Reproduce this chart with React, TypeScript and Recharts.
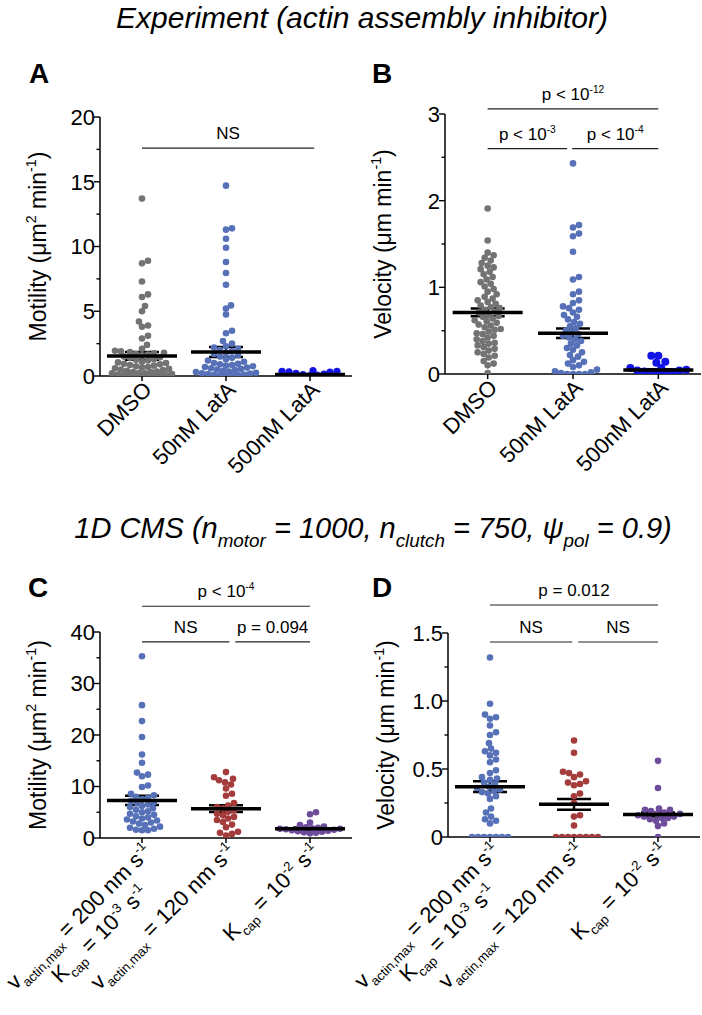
import React from 'react';
import { ComposedChart, Scatter, XAxis, YAxis, ErrorBar, ReferenceLine } from 'recharts';

const FONT = '"Liberation Sans", Arial, Helvetica, sans-serif';

// ---------------- data ----------------
const groupsExp = [['DMSO'], ['50nM LatA'], ['500nM LatA']];
const groupsCms = [
  ['v_{actin,max} = 200 nm s^{-1}', 'K_{cap} = 10^{-3} s^{-1}'],
  ['v_{actin,max} = 120 nm s^{-1}'],
  ['K_{cap} = 10^{-2} s^{-1}'],
];

const motilityDMSO = [13.7, 8.9, 8.7, 7.3, 6.3, 6.1, 5.4, 5.0, 4.2, 3.9, 3.8, 3.1, 2.9, 2.4, 2.1, 1.95, 1.9, 1.85, 1.8, 1.75, 1.7, 1.65, 1.6, 1.5, 1.45, 1.4, 1.3, 1.25, 1.2, 1.1, 1.05, 1.0, 0.95, 0.9, 0.85, 0.8, 0.75, 0.7, 0.65, 0.6, 0.55, 0.5, 0.45, 0.4, 0.35, 0.3, 0.3, 0.25, 0.2, 0.2, 0.15, 0.12, 0.1, 0.08, 0.06, 0.05, 0.04, 0.03, 0.02, 0.01];
const motilityLat50 = [14.7, 11.4, 11.3, 10.6, 9.9, 8.8, 7.95, 7.05, 5.45, 5.2, 4.75, 3.5, 3.3, 2.7, 2.5, 2.3, 2.2, 2.1, 2.0, 1.9, 1.8, 1.7, 1.6, 1.5, 1.4, 1.3, 1.2, 1.1, 1.0, 0.95, 0.9, 0.85, 0.8, 0.75, 0.7, 0.65, 0.6, 0.55, 0.5, 0.45, 0.4, 0.35, 0.3, 0.25, 0.2, 0.18, 0.15, 0.12, 0.1, 0.08, 0.05, 0.03, 0.02];
const motilityLat500 = [0.42, 0.36, 0.35, 0.33, 0.3, 0.2, 0.14, 0.1, 0.06, 0.03];
const motilityMeans = [1.55, 1.85, 0.12];
const motilitySems = [0.3, 0.38, 0.02];

const velocityDMSO = [1.91, 1.54, 1.40, 1.37, 1.34, 1.31, 1.28, 1.25, 1.23, 1.21, 1.18, 1.15, 1.12, 1.09, 1.06, 1.04, 1.01, 0.98, 0.95, 0.92, 0.89, 0.87, 0.85, 0.83, 0.81, 0.79, 0.77, 0.76, 0.74, 0.72, 0.71, 0.69, 0.67, 0.66, 0.64, 0.62, 0.61, 0.59, 0.57, 0.56, 0.54, 0.52, 0.51, 0.49, 0.47, 0.46, 0.44, 0.42, 0.40, 0.38, 0.36, 0.35, 0.33, 0.31, 0.29, 0.27, 0.25, 0.23, 0.21, 0.19, 0.15, 0.12, 0.10, 0.01];
const velocityLat50 = [2.43, 1.72, 1.69, 1.62, 1.59, 1.41, 1.12, 1.09, 0.95, 0.92, 0.85, 0.82, 0.78, 0.76, 0.74, 0.71, 0.68, 0.66, 0.63, 0.6, 0.58, 0.55, 0.53, 0.5, 0.48, 0.46, 0.44, 0.42, 0.4, 0.38, 0.35, 0.33, 0.3, 0.28, 0.25, 0.22, 0.2, 0.16, 0.14, 0.12, 0.1, 0.08, 0.05, 0.03, 0.02, 0.01, 0.0, 0.0, 0.0, 0.0];
const velocityLat500 = [0.21, 0.21, 0.14, 0.13, 0.07, 0.07, 0.05, 0.04, 0.04, 0.03, 0.02, 0.02, 0.01, 0.01];
const velocityMeans = [0.71, 0.47, 0.045];
const velocitySems = [0.045, 0.055, 0.01];

const cmsMotility200 = [35.3, 25.8, 22.7, 19.6, 16.2, 14.6, 12.7, 12.3, 12.0, 10.2, 9.9, 8.6, 8.3, 8.0, 7.8, 7.5, 7.2, 7.0, 6.8, 6.5, 6.2, 6.0, 5.8, 5.5, 5.2, 5.0, 4.7, 4.5, 4.2, 4.0, 3.8, 3.6, 3.4, 3.2, 3.0, 2.8, 2.5, 2.2, 2.0, 1.8, 1.6, 1.5, 1.5];
const cmsMotility120 = [12.8, 11.8, 11.5, 11.2, 10.8, 10.4, 9.6, 8.6, 8.2, 6.8, 6.3, 6.0, 5.7, 5.4, 5.1, 4.7, 4.4, 4.1, 3.8, 3.5, 3.1, 2.6, 2.1, 1.2, 1.0, 0.8, 0.5];
const cmsMotilityCap = [5.0, 4.6, 3.0, 2.5, 2.2, 2.1, 2.0, 1.9, 1.8, 1.8, 1.7, 1.6, 1.5, 1.4, 1.3, 1.2, 1.1, 1.0, 0.9];
const cmsMotilityMeans = [7.3, 5.7, 1.8];
const cmsMotilitySems = [0.9, 0.65, 0.25];

const cmsVelocity200 = [1.32, 0.98, 0.90, 0.88, 0.87, 0.82, 0.77, 0.75, 0.69, 0.65, 0.63, 0.62, 0.60, 0.57, 0.55, 0.49, 0.47, 0.44, 0.43, 0.42, 0.40, 0.39, 0.37, 0.36, 0.35, 0.34, 0.33, 0.32, 0.30, 0.28, 0.21, 0.18, 0.15, 0.13, 0.12, 0.10, 0.0, 0.0, 0.0, 0.0, 0.0, 0.0, 0.0];
const cmsVelocity120 = [0.71, 0.62, 0.48, 0.47, 0.46, 0.44, 0.41, 0.40, 0.39, 0.38, 0.32, 0.30, 0.25, 0.16, 0.15, 0.085, 0.0, 0.0, 0.0, 0.0, 0.0, 0.0, 0.0, 0.0];
const cmsVelocityCap = [0.56, 0.36, 0.21, 0.20, 0.20, 0.19, 0.18, 0.17, 0.17, 0.16, 0.15, 0.15, 0.14, 0.14, 0.13, 0.12, 0.10, 0.08, 0.0];
const cmsVelocityMeans = [0.37, 0.24, 0.165];
const cmsVelocitySems = [0.04, 0.04, 0.015];

const ticksMotA = [0, 2.5, 5, 7.5, 10, 12.5, 15, 17.5, 20];
const majorMotA = [0, 5, 10, 15, 20];
const ticksVelB = [0, 0.5, 1, 1.5, 2, 2.5, 3];
const majorVelB = [0, 1, 2, 3];
const ticksMotC = [0, 5, 10, 15, 20, 25, 30, 35, 40];
const majorMotC = [0, 10, 20, 30, 40];
const ticksVelD = [0, 0.25, 0.5, 0.75, 1, 1.25, 1.5];
const majorVelD = [0, 0.5, 1, 1.5];

// ---------------- colours ----------------
const GRAY = '#737373';
const BLUE = '#5671b7';
const BLUE_DARK = '#1414e6';
const RED = '#a43c3c';
const PURPLE = '#6e4c9c';

// ---------------- rich text helpers ----------------
type Part = { t: string; sup?: boolean; sub?: boolean };
function parseRich(s: string): Part[] {
  const parts: Part[] = [];
  const re = /([_^])\{([^}]*)\}/g;
  let last = 0;
  let m: RegExpExecArray | null;
  while ((m = re.exec(s))) {
    if (m.index > last) parts.push({ t: s.slice(last, m.index) });
    parts.push({ t: m[2], sup: m[1] === '^', sub: m[1] === '_' });
    last = re.lastIndex;
  }
  if (last < s.length) parts.push({ t: s.slice(last) });
  return parts;
}
function richSpans(s: string, fs: number, scale = 0.62) {
  let cur = 0;
  return parseRich(s).map((p, i) => {
    const target = p.sup ? -0.42 * fs : p.sub ? 0.3 * fs : 0;
    const dy = target - cur;
    cur = target;
    return (
      <tspan key={i} dy={dy} fontSize={p.sup || p.sub ? fs * scale : fs}>
        {p.t}
      </tspan>
    );
  });
}

// ---------------- beeswarm offsets (deterministic) ----------------
function swarm(values: number[], pxPerY: number, minDist: number, maxOff: number): number[] {
  const idx = values.map((_, i) => i).sort((a, b) => values[a] - values[b]);
  const placed: { x: number; y: number }[] = [];
  const offs = new Array(values.length).fill(0);
  for (const i of idx) {
    const py = values[i] * pxPerY;
    let best = 0;
    let bestScore = -1;
    for (let k = 0; k <= maxOff * 2; k++) {
      const cand = (k % 2 === 1 ? 1 : -1) * Math.ceil(k / 2);
      let md = Infinity;
      for (const p of placed) {
        const d = Math.hypot(p.x - cand, p.y - py);
        if (d < md) md = d;
      }
      if (md >= minDist) {
        best = cand;
        break;
      }
      if (md > bestScore) {
        bestScore = md;
        best = cand;
      }
    }
    placed.push({ x: best, y: py });
    offs[i] = best;
  }
  return offs;
}

// ---------------- panel ----------------
type Bracket = { from: number; to: number; y: number; text: string };
type Series = { values: number[]; color: string; r: number };
type PanelCfg = {
  left: number; top: number; width: number; height: number;
  plotX0: number; plotX1: number; plotY0: number; plotY1: number;
  yMax: number; yTicks: number[]; yMajor: number[]; yFmt: (v: number) => string;
  yLabel: string;
  series: Series[];
  means: number[]; sems: number[];
  brackets: Bracket[];
  xLabels: string[][];
};

const YW = 60;
const TICK_FS = 22;
const XTICK_FS = 22;

const YTick = (props: any) => {
  const { x, y, payload, major, fmt } = props;
  const axisX = x + 10;
  const isMajor = major.some((m: number) => Math.abs(m - payload.value) < 1e-9);
  return (
    <g>
      <line x1={axisX - (isMajor ? 6 : 3.5)} x2={axisX} y1={y} y2={y} stroke="#000" strokeWidth={1.4} />
      {isMajor && (
        <text x={axisX - 5} y={y} dy="0.36em" textAnchor="end" fontSize={TICK_FS} fontFamily={FONT} fill="#000">
          {fmt(payload.value)}
        </text>
      )}
    </g>
  );
};

const XTick = (props: any) => {
  const { x, y, payload, labels } = props;
  const lines: string[] = labels[Math.round(payload.value) - 1] || [];
  return (
    <g transform={`translate(${x + 11},${y + 8}) rotate(-45)`}>
      {lines.map((ln, i) => (
        <text key={i} x={i === 0 ? 0 : -32} y={i * 27} textAnchor="end" fontSize={XTICK_FS} fontFamily={FONT} fill="#000" style={{ whiteSpace: 'pre' }}>
          {richSpans(ln, XTICK_FS, 0.6)}
        </text>
      ))}
    </g>
  );
};

const YLabel = (props: any) => {
  const { viewBox, text } = props;
  if (!viewBox) return null;
  const lx = viewBox.x + 5.5;
  const cy = viewBox.y + viewBox.height / 2;
  return (
    <text transform={`translate(${lx},${cy}) rotate(-90)`} textAnchor="middle" dy="0.35em" fontSize={23} fontFamily={FONT} fill="#000" style={{ whiteSpace: 'pre' }}>
      {richSpans(text, 23)}
    </text>
  );
};

const BracketLabel = (props: any) => {
  const { viewBox, text } = props;
  if (!viewBox) return null;
  const cx = viewBox.x + (viewBox.width || 0) / 2;
  const y = viewBox.y - 9;
  return (
    <text x={cx} y={y} textAnchor="middle" fontSize={17} fontFamily={FONT} fill="#000" style={{ whiteSpace: 'pre' }}>
      {richSpans(text, 17, 0.6)}
    </text>
  );
};

function Panel({ cfg }: { cfg: PanelCfg }) {
  const xAxisH = cfg.top + cfg.height - cfg.plotY1 - 5;
  const margin = {
    top: cfg.plotY0 - cfg.top,
    left: cfg.plotX0 - cfg.left - YW,
    right: cfg.left + cfg.width - cfg.plotX1,
    bottom: 5,
  };
  const pxPerX = (cfg.plotX1 - cfg.plotX0) / 3;
  const pxPerY = (cfg.plotY1 - cfg.plotY0) / cfg.yMax;
  const meanData = cfg.means.map((m, i) => ({ x: i + 1, y: m, err: cfg.sems[i] }));
  return (
    <div style={{ position: 'absolute', left: cfg.left, top: cfg.top }}>
      <ComposedChart width={cfg.width} height={cfg.height} margin={margin}>
        <XAxis
          type="number"
          dataKey="x"
          domain={[0.5, 3.5]}
          ticks={[1, 2, 3]}
          interval={0}
          allowDataOverflow
          height={xAxisH}
          tickSize={5}
          tickMargin={2}
          axisLine={{ stroke: '#000', strokeWidth: 1.5 }}
          tickLine={{ stroke: '#000', strokeWidth: 1.5 }}
          tick={<XTick labels={cfg.xLabels} />}
        />
        <YAxis
          type="number"
          dataKey="y"
          domain={[0, cfg.yMax]}
          ticks={cfg.yTicks}
          interval={0}
          allowDataOverflow
          width={YW}
          tickSize={8}
          tickMargin={2}
          tickLine={false}
          axisLine={{ stroke: '#000', strokeWidth: 1.5 }}
          tick={<YTick major={cfg.yMajor} fmt={cfg.yFmt} />}
          label={<YLabel text={cfg.yLabel} />}
        />
        {cfg.series.map((s, gi) => {
          const offs = swarm(s.values, pxPerY, s.r * 1.75, 31);
          const data = s.values.map((v, i) => ({ x: gi + 1 + offs[i] / pxPerX, y: v }));
          return (
            <Scatter
              key={gi}
              data={data}
              fill={s.color}
              isAnimationActive={false}
              shape={(p: any) => <circle cx={p.cx} cy={p.cy} r={s.r} fill={s.color} />}
            />
          );
        })}
        <Scatter
          data={meanData}
          isAnimationActive={false}
          fill="#000"
          shape={(p: any) => <line x1={p.cx - 35} x2={p.cx + 35} y1={p.cy} y2={p.cy} stroke="#000" strokeWidth={3.5} />}
        >
          <ErrorBar dataKey="err" direction="y" width={17} stroke="#000" strokeWidth={2.5} isAnimationActive={false} />
        </Scatter>
        {cfg.brackets.map((b, i) => (
          <ReferenceLine
            key={i}
            segment={[{ x: b.from, y: b.y }, { x: b.to, y: b.y }]}
            stroke="#222"
            strokeWidth={1.2}
            ifOverflow="visible"
            label={<BracketLabel text={b.text} />}
          />
        ))}
      </ComposedChart>
    </div>
  );
}

const fmtInt = (v: number) => String(v);
const fmtOne = (v: number) => (v === 0 ? '0' : v.toFixed(1));

const panelA: PanelCfg = {
  left: 0, top: 60, width: 360, height: 430,
  plotX0: 100, plotX1: 352, plotY0: 117, plotY1: 376,
  yMax: 20, yTicks: ticksMotA, yMajor: majorMotA, yFmt: fmtInt,
  yLabel: 'Motility (μm^{2} min^{-1})',
  series: [
    { values: motilityDMSO, color: GRAY, r: 3.3 },
    { values: motilityLat50, color: BLUE, r: 3.3 },
    { values: motilityLat500, color: BLUE_DARK, r: 3.6 },
  ],
  means: motilityMeans, sems: motilitySems,
  brackets: [{ from: 1, to: 3.05, y: 17.6, text: 'NS' }],
  xLabels: groupsExp,
};

const panelB: PanelCfg = {
  left: 330, top: 60, width: 372, height: 430,
  plotX0: 445, plotX1: 701, plotY0: 114, plotY1: 374,
  yMax: 3, yTicks: ticksVelB, yMajor: majorVelB, yFmt: fmtInt,
  yLabel: 'Velocity (μm min^{-1})',
  series: [
    { values: velocityDMSO, color: GRAY, r: 3.3 },
    { values: velocityLat50, color: BLUE, r: 3.3 },
    { values: velocityLat500, color: BLUE_DARK, r: 4 },
  ],
  means: velocityMeans, sems: velocitySems,
  brackets: [
    { from: 1, to: 3, y: 3.06, text: 'p < 10^{-12}' },
    { from: 1, to: 1.93, y: 2.6, text: 'p < 10^{-3}' },
    { from: 1.99, to: 3, y: 2.6, text: 'p < 10^{-4}' },
  ],
  xLabels: groupsExp,
};

const panelC: PanelCfg = {
  left: 0, top: 560, width: 360, height: 455,
  plotX0: 100, plotX1: 352, plotY0: 632, plotY1: 838,
  yMax: 40, yTicks: ticksMotC, yMajor: majorMotC, yFmt: fmtInt,
  yLabel: 'Motility (μm^{2} min^{-1})',
  series: [
    { values: cmsMotility200, color: BLUE, r: 3.3 },
    { values: cmsMotility120, color: RED, r: 3.3 },
    { values: cmsMotilityCap, color: PURPLE, r: 3.3 },
  ],
  means: cmsMotilityMeans, sems: cmsMotilitySems,
  brackets: [
    { from: 1, to: 3, y: 45, text: 'p < 10^{-4}' },
    { from: 1, to: 2.04, y: 38.1, text: 'NS' },
    { from: 2.11, to: 3, y: 38.1, text: 'p = 0.094' },
  ],
  xLabels: groupsCms,
};

const panelD: PanelCfg = {
  left: 320, top: 560, width: 382, height: 455,
  plotX0: 448, plotX1: 700, plotY0: 633, plotY1: 837,
  yMax: 1.5, yTicks: ticksVelD, yMajor: majorVelD, yFmt: fmtOne,
  yLabel: 'Velocity (μm min^{-1})',
  series: [
    { values: cmsVelocity200, color: BLUE, r: 3.3 },
    { values: cmsVelocity120, color: RED, r: 3.3 },
    { values: cmsVelocityCap, color: PURPLE, r: 3.3 },
  ],
  means: cmsVelocityMeans, sems: cmsVelocitySems,
  brackets: [
    { from: 1, to: 3, y: 1.706, text: 'p = 0.012' },
    { from: 1, to: 1.98, y: 1.434, text: 'NS' },
    { from: 2.05, to: 3, y: 1.434, text: 'NS' },
  ],
  xLabels: groupsCms,
};

const topTitle = 'Experiment (actin assembly inhibitor)';
const midTitle = '1D CMS (n_{motor} = 1000, n_{clutch} = 750, ψ_{pol} = 0.9)';
const panelLetters = ['A', 'B', 'C', 'D'];

export default function App() {
  return (
    <div style={{ position: 'absolute', left: 0, top: 0, width: 702, height: 1015, background: '#fff', overflow: 'hidden' }}>
      <Panel cfg={panelA} />
      <Panel cfg={panelB} />
      <Panel cfg={panelC} />
      <Panel cfg={panelD} />
      <svg width={702} height={1015} style={{ position: 'absolute', left: 0, top: 0, pointerEvents: 'none' }}>
        <text x={362} y={28} textAnchor="middle" fontSize={30} fontStyle="italic" fontFamily={FONT} fill="#000">
          {topTitle}
        </text>
        <text x={373} y={538} textAnchor="middle" fontSize={29} fontStyle="italic" fontFamily={FONT} fill="#000" style={{ whiteSpace: 'pre' }}>
          {richSpans(midTitle, 29, 0.65)}
        </text>
        <text x={29} y={83} fontSize={28} fontWeight="bold" fontFamily={FONT} fill="#000">{panelLetters[0]}</text>
        <text x={372} y={83} fontSize={28} fontWeight="bold" fontFamily={FONT} fill="#000">{panelLetters[1]}</text>
        <text x={28} y={597} fontSize={28} fontWeight="bold" fontFamily={FONT} fill="#000">{panelLetters[2]}</text>
        <text x={372} y={597} fontSize={28} fontWeight="bold" fontFamily={FONT} fill="#000">{panelLetters[3]}</text>
      </svg>
    </div>
  );
}
